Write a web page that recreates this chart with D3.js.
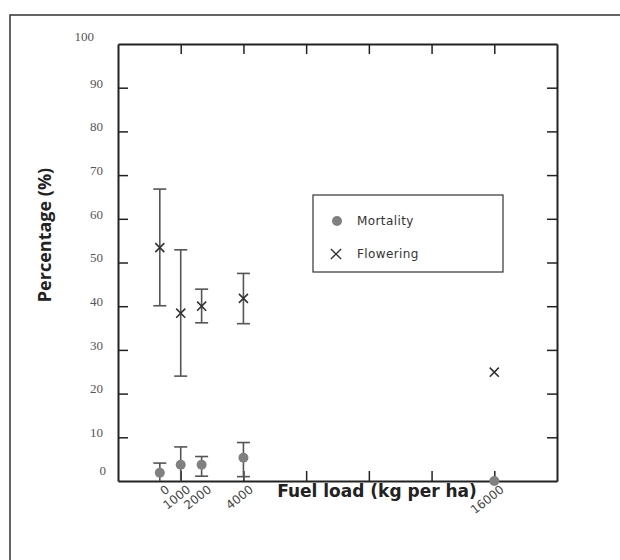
<!DOCTYPE html>
<html>
<head>
<meta charset="utf-8">
<script src="https://d3js.org/d3.v7.min.js"></script>
<style>
  body { margin: 0; background: #fff; }
</style>
</head>
<body>
<div id="chart"></div>
<script>
    // data
    const fuelLoad = [0, 1000, 2000, 4000, 16000];
    const xTickLabels = ["0", "1000", "2000", "4000", "16000"];
    const xFrameTicks = [1000, 4000, 7000, 10000, 13000, 16000];
    const yTicks = [0, 10, 20, 30, 40, 50, 60, 70, 80, 90, 100];

    const mortality = [1.9, 3.7, 3.7, 5.3, 0];
    const mortalityLow = [0, 0, 1.1, 1.0, 0];
    const mortalityHigh = [4.1, 7.8, 5.6, 8.8, 0];

    const flowering = [53.4, 38.4, 40.0, 41.8, 24.9];
    const floweringLow = [40.1, 24.0, 36.2, 36.0, 24.9];
    const floweringHigh = [66.8, 52.9, 43.9, 47.5, 24.9];

    const legendLabels = ["Mortality", "Flowering"];

    const W = 620, H = 560;
    const plot = {left: 118, right: 557, top: 44, bottom: 481};

    const svg = d3.select("#chart").append("svg")
        .attr("width", W).attr("height", H);

    // outer frame (only top and left are inside the picture)
    svg.append("path")
        .attr("d", "M10," + H + "V15H" + W)
        .attr("fill", "none").attr("stroke", "#333").attr("stroke-width", 1.5);

    const x = d3.scaleLinear().domain([-2000, 19000]).range([plot.left, plot.right]);
    const y = d3.scaleLinear().domain([0, 100]).range([plot.bottom, plot.top]);

    function styleAxis(g) {
        g.select(".domain").attr("stroke", "#222").attr("stroke-width", 2);
        g.selectAll(".tick line").attr("stroke", "#222").attr("stroke-width", 1.5);
    }

    // left axis with labels
    svg.append("g")
        .attr("transform", "translate(" + plot.left + ",0)")
        .call(d3.axisLeft(y).tickValues(yTicks).tickSizeInner(-10).tickSizeOuter(0).tickPadding(15))
        .call(styleAxis)
        .call(g => g.selectAll(".tick").filter(d => d === 0 || d === 100).select("line").remove())
        .call(g => g.selectAll(".tick text")
            .attr("font-family", "Liberation Serif, serif")
            .attr("font-size", 13)
            .attr("fill", "#555")
            .attr("dy", "-0.05em"))
        .call(g => g.selectAll(".tick").filter(d => d === 100).select("text").attr("dx", -9).attr("dy", "-0.3em"))
        .call(g => g.selectAll(".tick").filter(d => d === 0).select("text").attr("dx", 3).attr("dy", "-0.5em"));

    // right axis, ticks only
    svg.append("g")
        .attr("transform", "translate(" + plot.right + ",0)")
        .call(d3.axisRight(y).tickValues(yTicks.slice(1, -1)).tickSizeInner(-10).tickSizeOuter(0).tickFormat(""))
        .call(styleAxis);

    // top axis, ticks only
    svg.append("g")
        .attr("transform", "translate(0," + plot.top + ")")
        .call(d3.axisTop(x).tickValues(xFrameTicks).tickSizeInner(-10).tickSizeOuter(0).tickFormat(""))
        .call(styleAxis);

    // bottom axis, ticks only
    svg.append("g")
        .attr("transform", "translate(0," + plot.bottom + ")")
        .call(d3.axisBottom(x).tickValues(xFrameTicks).tickSizeInner(-10).tickSizeOuter(0).tickFormat(""))
        .call(styleAxis);

    // bottom labels at the fuel loads, rotated
    svg.append("g")
        .selectAll("text")
        .data(fuelLoad)
        .enter()
        .append("text")
        .attr("transform", d => "translate(" + (x(d) + 5) + "," + (plot.bottom + 3) + ") rotate(-38)")
        .attr("text-anchor", "end")
        .attr("dy", "0.75em")
        .attr("font-family", "DejaVu Sans, sans-serif")
        .attr("font-size", 12)
        .attr("fill", "#444")
        .text((d, i) => xTickLabels[i]);

    // axis titles
    svg.append("text")
        .attr("x", 377).attr("y", 497)
        .attr("text-anchor", "middle")
        .attr("font-family", "DejaVu Sans, sans-serif")
        .attr("font-size", 17)
        .attr("font-weight", "bold")
        .attr("fill", "#222")
        .text("Fuel load (kg per ha)");

    svg.append("text")
        .attr("transform", "translate(51,235) rotate(-90)")
        .attr("text-anchor", "middle")
        .attr("font-family", "Open Sans, sans-serif")
        .attr("font-size", 18)
        .attr("font-weight", "bold")
        .attr("fill", "#222")
        .text("Percentage (%)");

    const errColor = "#555";
    const capW = 6.5;

    function errorBars(vals, lo, hi, cls) {
        const g = svg.append("g").attr("class", cls);
        const rows = fuelLoad.map((f, i) => ({f: f, v: vals[i], lo: lo[i], hi: hi[i]}))
            .filter(d => d.hi > d.lo);
        g.selectAll("line.v").data(rows).enter().append("line")
            .attr("x1", d => x(d.f)).attr("x2", d => x(d.f))
            .attr("y1", d => y(d.lo)).attr("y2", d => y(d.hi))
            .attr("stroke", errColor).attr("stroke-width", 1.6);
        g.selectAll("line.hi").data(rows).enter().append("line")
            .attr("x1", d => x(d.f) - capW).attr("x2", d => x(d.f) + capW)
            .attr("y1", d => y(d.hi)).attr("y2", d => y(d.hi))
            .attr("stroke", errColor).attr("stroke-width", 1.6);
        g.selectAll("line.lo").data(rows.filter(d => d.lo > 0)).enter().append("line")
            .attr("x1", d => x(d.f) - capW).attr("x2", d => x(d.f) + capW)
            .attr("y1", d => y(d.lo)).attr("y2", d => y(d.lo))
            .attr("stroke", errColor).attr("stroke-width", 1.6);
    }

    errorBars(flowering, floweringLow, floweringHigh, "flowering-err");
    errorBars(mortality, mortalityLow, mortalityHigh, "mortality-err");

    // mortality dots
    svg.append("g")
        .selectAll("circle")
        .data(fuelLoad)
        .enter()
        .append("circle")
        .attr("cx", d => x(d))
        .attr("cy", (d, i) => y(mortality[i]))
        .attr("r", 5)
        .attr("fill", "#808080");

    // flowering crosses
    const cross = d3.symbol().type(d3.symbolX).size(55);
    svg.append("g")
        .selectAll("path")
        .data(fuelLoad)
        .enter()
        .append("path")
        .attr("transform", (d, i) => "translate(" + x(d) + "," + y(flowering[i]) + ")")
        .attr("d", cross)
        .attr("fill", "none")
        .attr("stroke", "#333")
        .attr("stroke-width", 1.6);

    // legend
    const lg = svg.append("g").attr("transform", "translate(313,195)");
    lg.append("rect")
        .attr("width", 190).attr("height", 77)
        .attr("fill", "#fff").attr("stroke", "#333").attr("stroke-width", 1.2);
    lg.append("circle")
        .attr("cx", 24).attr("cy", 26).attr("r", 5).attr("fill", "#808080");
    lg.append("path")
        .attr("transform", "translate(23,59)")
        .attr("d", d3.symbol().type(d3.symbolX).size(70))
        .attr("fill", "none").attr("stroke", "#333").attr("stroke-width", 1.4);
    lg.selectAll("text")
        .data(legendLabels)
        .enter()
        .append("text")
        .attr("x", 44)
        .attr("y", (d, i) => 26 + i * 33)
        .attr("dy", "0.35em")
        .attr("font-family", "DejaVu Sans, sans-serif")
        .attr("font-size", 12)
        .attr("letter-spacing", 0.4)
        .attr("fill", "#333")
        .text(d => d);
</script>
</body>
</html>
